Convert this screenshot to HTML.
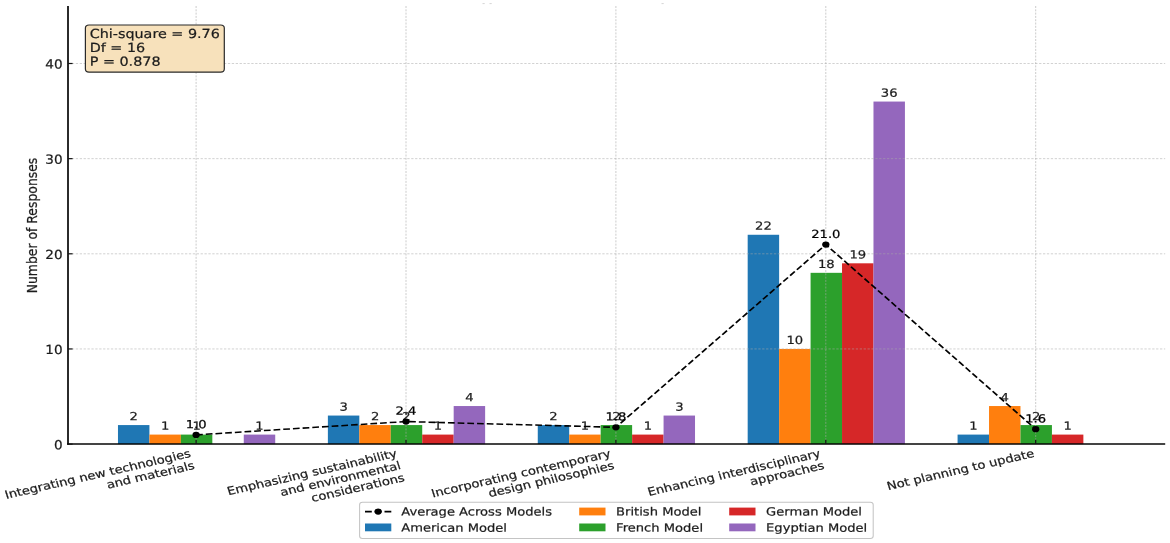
<!DOCTYPE html>
<html lang="en"><head><meta charset="utf-8"><title>Chart</title>
<style>
html,body{margin:0;padding:0;background:#fff;}
body{width:1170px;height:543px;overflow:hidden;}
svg{display:block;font-family:"DejaVu Sans", "Liberation Sans", sans-serif;}
</style></head><body>
<svg width="1170" height="543" viewBox="0 0 1170 543">
<rect width="1170" height="543" fill="#fff"/>
<rect x="482.5" y="3" width="2.2" height="1.1" fill="#d9d9d9"/>
<rect x="489.5" y="3" width="2.2" height="1.1" fill="#d9d9d9"/>
<rect x="661.5" y="3" width="2.2" height="1.1" fill="#d9d9d9"/>
<rect x="117.97" y="425.07" width="31.45" height="19.03" fill="#1f77b4"/>
<rect x="149.43" y="434.59" width="31.45" height="9.52" fill="#ff7f0e"/>
<rect x="180.88" y="434.59" width="31.45" height="9.52" fill="#2ca02c"/>
<rect x="243.77" y="434.59" width="31.45" height="9.52" fill="#9467bd"/>
<rect x="327.88" y="415.56" width="31.45" height="28.55" fill="#1f77b4"/>
<rect x="359.32" y="425.07" width="31.45" height="19.03" fill="#ff7f0e"/>
<rect x="390.77" y="425.07" width="31.45" height="19.03" fill="#2ca02c"/>
<rect x="422.23" y="434.59" width="31.45" height="9.52" fill="#d62728"/>
<rect x="453.68" y="406.04" width="31.45" height="38.06" fill="#9467bd"/>
<rect x="537.77" y="425.07" width="31.45" height="19.03" fill="#1f77b4"/>
<rect x="569.23" y="434.59" width="31.45" height="9.52" fill="#ff7f0e"/>
<rect x="600.67" y="425.07" width="31.45" height="19.03" fill="#2ca02c"/>
<rect x="632.12" y="434.59" width="31.45" height="9.52" fill="#d62728"/>
<rect x="663.57" y="415.56" width="31.45" height="28.55" fill="#9467bd"/>
<rect x="747.68" y="234.77" width="31.45" height="209.33" fill="#1f77b4"/>
<rect x="779.13" y="348.95" width="31.45" height="95.15" fill="#ff7f0e"/>
<rect x="810.58" y="272.83" width="31.45" height="171.27" fill="#2ca02c"/>
<rect x="842.03" y="263.31" width="31.45" height="180.79" fill="#d62728"/>
<rect x="873.48" y="101.56" width="31.45" height="342.54" fill="#9467bd"/>
<rect x="957.58" y="434.59" width="31.45" height="9.52" fill="#1f77b4"/>
<rect x="989.03" y="406.04" width="31.45" height="38.06" fill="#ff7f0e"/>
<rect x="1020.48" y="425.07" width="31.45" height="19.03" fill="#2ca02c"/>
<rect x="1051.92" y="434.59" width="31.45" height="9.52" fill="#d62728"/>
<line x1="196.10" x2="196.10" y1="6.0" y2="444.1" stroke="#a8a8a8" stroke-opacity="0.62" stroke-width="0.95" stroke-dasharray="2.0 1.3"/>
<line x1="406.00" x2="406.00" y1="6.0" y2="444.1" stroke="#a8a8a8" stroke-opacity="0.62" stroke-width="0.95" stroke-dasharray="2.0 1.3"/>
<line x1="615.90" x2="615.90" y1="6.0" y2="444.1" stroke="#a8a8a8" stroke-opacity="0.62" stroke-width="0.95" stroke-dasharray="2.0 1.3"/>
<line x1="825.80" x2="825.80" y1="6.0" y2="444.1" stroke="#a8a8a8" stroke-opacity="0.62" stroke-width="0.95" stroke-dasharray="2.0 1.3"/>
<line x1="1035.70" x2="1035.70" y1="6.0" y2="444.1" stroke="#a8a8a8" stroke-opacity="0.62" stroke-width="0.95" stroke-dasharray="2.0 1.3"/>
<line x1="68.0" x2="1165.2" y1="348.95" y2="348.95" stroke="#a8a8a8" stroke-opacity="0.62" stroke-width="0.85" stroke-dasharray="2.3 1.6"/>
<line x1="68.0" x2="1165.2" y1="253.80" y2="253.80" stroke="#a8a8a8" stroke-opacity="0.62" stroke-width="0.85" stroke-dasharray="2.3 1.6"/>
<line x1="68.0" x2="1165.2" y1="158.65" y2="158.65" stroke="#a8a8a8" stroke-opacity="0.62" stroke-width="0.85" stroke-dasharray="2.3 1.6"/>
<line x1="68.0" x2="1165.2" y1="63.50" y2="63.50" stroke="#a8a8a8" stroke-opacity="0.62" stroke-width="0.85" stroke-dasharray="2.3 1.6"/>
<text transform="translate(133.70 420.17) scale(1.46 1.24) rotate(0.05) scale(1 1.012)" font-size="9" text-anchor="middle" fill="#1c1c1c" stroke="#1c1c1c" stroke-width="0.18">2</text>
<text transform="translate(165.15 429.69) scale(1.46 1.24) rotate(0.05) scale(1 1.012)" font-size="9" text-anchor="middle" fill="#1c1c1c" stroke="#1c1c1c" stroke-width="0.18">1</text>
<text transform="translate(196.60 429.69) scale(1.46 1.24) rotate(0.05) scale(1 1.012)" font-size="9" text-anchor="middle" fill="#1c1c1c" stroke="#1c1c1c" stroke-width="0.18">1</text>
<text transform="translate(259.50 429.69) scale(1.46 1.24) rotate(0.05) scale(1 1.012)" font-size="9" text-anchor="middle" fill="#1c1c1c" stroke="#1c1c1c" stroke-width="0.18">1</text>
<text transform="translate(343.60 410.66) scale(1.46 1.24) rotate(0.05) scale(1 1.012)" font-size="9" text-anchor="middle" fill="#1c1c1c" stroke="#1c1c1c" stroke-width="0.18">3</text>
<text transform="translate(375.05 420.17) scale(1.46 1.24) rotate(0.05) scale(1 1.012)" font-size="9" text-anchor="middle" fill="#1c1c1c" stroke="#1c1c1c" stroke-width="0.18">2</text>
<text transform="translate(406.50 420.17) scale(1.46 1.24) rotate(0.05) scale(1 1.012)" font-size="9" text-anchor="middle" fill="#1c1c1c" stroke="#1c1c1c" stroke-width="0.18">2</text>
<text transform="translate(437.95 429.69) scale(1.46 1.24) rotate(0.05) scale(1 1.012)" font-size="9" text-anchor="middle" fill="#1c1c1c" stroke="#1c1c1c" stroke-width="0.18">1</text>
<text transform="translate(469.40 401.14) scale(1.46 1.24) rotate(0.05) scale(1 1.012)" font-size="9" text-anchor="middle" fill="#1c1c1c" stroke="#1c1c1c" stroke-width="0.18">4</text>
<text transform="translate(553.50 420.17) scale(1.46 1.24) rotate(0.05) scale(1 1.012)" font-size="9" text-anchor="middle" fill="#1c1c1c" stroke="#1c1c1c" stroke-width="0.18">2</text>
<text transform="translate(584.95 429.69) scale(1.46 1.24) rotate(0.05) scale(1 1.012)" font-size="9" text-anchor="middle" fill="#1c1c1c" stroke="#1c1c1c" stroke-width="0.18">1</text>
<text transform="translate(616.40 420.17) scale(1.46 1.24) rotate(0.05) scale(1 1.012)" font-size="9" text-anchor="middle" fill="#1c1c1c" stroke="#1c1c1c" stroke-width="0.18">2</text>
<text transform="translate(647.85 429.69) scale(1.46 1.24) rotate(0.05) scale(1 1.012)" font-size="9" text-anchor="middle" fill="#1c1c1c" stroke="#1c1c1c" stroke-width="0.18">1</text>
<text transform="translate(679.30 410.66) scale(1.46 1.24) rotate(0.05) scale(1 1.012)" font-size="9" text-anchor="middle" fill="#1c1c1c" stroke="#1c1c1c" stroke-width="0.18">3</text>
<text transform="translate(763.40 229.87) scale(1.46 1.24) rotate(0.05) scale(1 1.012)" font-size="9" text-anchor="middle" fill="#1c1c1c" stroke="#1c1c1c" stroke-width="0.18">22</text>
<text transform="translate(794.85 344.05) scale(1.46 1.24) rotate(0.05) scale(1 1.012)" font-size="9" text-anchor="middle" fill="#1c1c1c" stroke="#1c1c1c" stroke-width="0.18">10</text>
<text transform="translate(826.30 267.93) scale(1.46 1.24) rotate(0.05) scale(1 1.012)" font-size="9" text-anchor="middle" fill="#1c1c1c" stroke="#1c1c1c" stroke-width="0.18">18</text>
<text transform="translate(857.75 258.42) scale(1.46 1.24) rotate(0.05) scale(1 1.012)" font-size="9" text-anchor="middle" fill="#1c1c1c" stroke="#1c1c1c" stroke-width="0.18">19</text>
<text transform="translate(889.20 96.66) scale(1.46 1.24) rotate(0.05) scale(1 1.012)" font-size="9" text-anchor="middle" fill="#1c1c1c" stroke="#1c1c1c" stroke-width="0.18">36</text>
<text transform="translate(973.30 429.69) scale(1.46 1.24) rotate(0.05) scale(1 1.012)" font-size="9" text-anchor="middle" fill="#1c1c1c" stroke="#1c1c1c" stroke-width="0.18">1</text>
<text transform="translate(1004.75 401.14) scale(1.46 1.24) rotate(0.05) scale(1 1.012)" font-size="9" text-anchor="middle" fill="#1c1c1c" stroke="#1c1c1c" stroke-width="0.18">4</text>
<text transform="translate(1036.20 420.17) scale(1.46 1.24) rotate(0.05) scale(1 1.012)" font-size="9" text-anchor="middle" fill="#1c1c1c" stroke="#1c1c1c" stroke-width="0.18">2</text>
<text transform="translate(1067.65 429.69) scale(1.46 1.24) rotate(0.05) scale(1 1.012)" font-size="9" text-anchor="middle" fill="#1c1c1c" stroke="#1c1c1c" stroke-width="0.18">1</text>
<g transform="scale(1.46 1.24)"><polyline points="134.32,350.71 278.08,339.97 421.85,344.58 565.62,197.25 709.38,346.11" fill="none" stroke="#000" stroke-width="1.25" stroke-dasharray="4.6 2.05"/>
<circle cx="134.32" cy="350.71" r="2.5" fill="#000"/>
<circle cx="278.08" cy="339.97" r="2.5" fill="#000"/>
<circle cx="421.85" cy="344.58" r="2.5" fill="#000"/>
<circle cx="565.62" cy="197.25" r="2.5" fill="#000"/>
<circle cx="709.38" cy="346.11" r="2.5" fill="#000"/>
</g>
<text transform="translate(196.10 428.19) scale(1.46 1.24) rotate(0.05) scale(1 1.012)" font-size="9" text-anchor="middle" fill="#000" stroke="#000" stroke-width="0.18">1.0</text>
<text transform="translate(406.00 414.86) scale(1.46 1.24) rotate(0.05) scale(1 1.012)" font-size="9" text-anchor="middle" fill="#000" stroke="#000" stroke-width="0.18">2.4</text>
<text transform="translate(615.90 420.57) scale(1.46 1.24) rotate(0.05) scale(1 1.012)" font-size="9" text-anchor="middle" fill="#000" stroke="#000" stroke-width="0.18">1.8</text>
<text transform="translate(825.80 237.89) scale(1.46 1.24) rotate(0.05) scale(1 1.012)" font-size="9" text-anchor="middle" fill="#000" stroke="#000" stroke-width="0.18">21.0</text>
<text transform="translate(1035.70 422.48) scale(1.46 1.24) rotate(0.05) scale(1 1.012)" font-size="9" text-anchor="middle" fill="#000" stroke="#000" stroke-width="0.18">1.6</text>
<line x1="68.0" x2="68.0" y1="6.0" y2="444.8" stroke="#141414" stroke-width="1.8"/>
<line x1="67.1" x2="1165.2" y1="444.1" y2="444.1" stroke="#060606" stroke-width="1.5"/>
<line x1="196.10" x2="196.10" y1="444.1" y2="439.8" stroke="#141414" stroke-width="1.3"/>
<line x1="406.00" x2="406.00" y1="444.1" y2="439.8" stroke="#141414" stroke-width="1.3"/>
<line x1="615.90" x2="615.90" y1="444.1" y2="439.8" stroke="#141414" stroke-width="1.3"/>
<line x1="825.80" x2="825.80" y1="444.1" y2="439.8" stroke="#141414" stroke-width="1.3"/>
<line x1="1035.70" x2="1035.70" y1="444.1" y2="439.8" stroke="#141414" stroke-width="1.3"/>
<line x1="68.0" x2="72.6" y1="444.10" y2="444.10" stroke="#141414" stroke-width="1.2"/>
<text transform="translate(62.60 449.20) scale(1.36 1.24) rotate(0.05) scale(1 1.012)" font-size="10" text-anchor="end" fill="#1c1c1c" stroke="#1c1c1c" stroke-width="0.18">0</text>
<line x1="68.0" x2="72.6" y1="348.95" y2="348.95" stroke="#141414" stroke-width="1.2"/>
<text transform="translate(62.60 354.05) scale(1.36 1.24) rotate(0.05) scale(1 1.012)" font-size="10" text-anchor="end" fill="#1c1c1c" stroke="#1c1c1c" stroke-width="0.18">10</text>
<line x1="68.0" x2="72.6" y1="253.80" y2="253.80" stroke="#141414" stroke-width="1.2"/>
<text transform="translate(62.60 258.90) scale(1.36 1.24) rotate(0.05) scale(1 1.012)" font-size="10" text-anchor="end" fill="#1c1c1c" stroke="#1c1c1c" stroke-width="0.18">20</text>
<line x1="68.0" x2="72.6" y1="158.65" y2="158.65" stroke="#141414" stroke-width="1.2"/>
<text transform="translate(62.60 163.75) scale(1.36 1.24) rotate(0.05) scale(1 1.012)" font-size="10" text-anchor="end" fill="#1c1c1c" stroke="#1c1c1c" stroke-width="0.18">30</text>
<line x1="68.0" x2="72.6" y1="63.50" y2="63.50" stroke="#141414" stroke-width="1.2"/>
<text transform="translate(62.60 68.60) scale(1.36 1.24) rotate(0.05) scale(1 1.012)" font-size="10" text-anchor="end" fill="#1c1c1c" stroke="#1c1c1c" stroke-width="0.18">40</text>
<text transform="translate(37.1 225.5) scale(1.46 1.24) rotate(-90)" font-size="10" text-anchor="middle" fill="#1c1c1c" stroke="#1c1c1c" stroke-width="0.18">Number of Responses</text>
<g transform="scale(1.46 1.24) translate(129.45 361.65) rotate(-15)" font-size="9" text-anchor="end" fill="#1c1c1c" stroke="#1c1c1c" stroke-width="0.18">
<text x="0" y="6.93">Integrating new technologies</text>
<text x="0" y="17.01">and materials</text>
</g>
<g transform="scale(1.46 1.24) translate(270.60 361.65) rotate(-15)" font-size="9" text-anchor="end" fill="#1c1c1c" stroke="#1c1c1c" stroke-width="0.18">
<text x="0" y="6.93">Emphasizing sustainability</text>
<text x="0" y="17.01">and environmental</text>
<text x="0" y="27.09">considerations</text>
</g>
<g transform="scale(1.46 1.24) translate(416.98 361.65) rotate(-15)" font-size="9" text-anchor="end" fill="#1c1c1c" stroke="#1c1c1c" stroke-width="0.18">
<text x="0" y="6.93">Incorporating contemporary</text>
<text x="0" y="17.01">design philosophies</text>
</g>
<g transform="scale(1.46 1.24) translate(560.75 361.65) rotate(-15)" font-size="9" text-anchor="end" fill="#1c1c1c" stroke="#1c1c1c" stroke-width="0.18">
<text x="0" y="6.93">Enhancing interdisciplinary</text>
<text x="0" y="17.01">approaches</text>
</g>
<g transform="scale(1.46 1.24) translate(707.12 361.65) rotate(-15)" font-size="9" text-anchor="end" fill="#1c1c1c" stroke="#1c1c1c" stroke-width="0.18">
<text x="0" y="6.93">Not planning to update</text>
</g>
<rect x="85.4" y="25.0" width="138.9" height="47.2" rx="3.6" ry="3.1" fill="#f7e1bb" stroke="#2a2a2a" stroke-width="1.2"/>
<text transform="translate(89.70 38.00) scale(1.435 1.24) rotate(0.05) scale(1 1.012)" font-size="10" text-anchor="start" fill="#1c1c1c" stroke="#1c1c1c" stroke-width="0.18">Chi-square = 9.76</text>
<text transform="translate(89.70 51.90) scale(1.435 1.24) rotate(0.05) scale(1 1.012)" font-size="10" text-anchor="start" fill="#1c1c1c" stroke="#1c1c1c" stroke-width="0.18">Df = 16</text>
<text transform="translate(89.70 65.80) scale(1.435 1.24) rotate(0.05) scale(1 1.012)" font-size="10" text-anchor="start" fill="#1c1c1c" stroke="#1c1c1c" stroke-width="0.18">P = 0.878</text>
<rect x="359.6" y="502.2" width="513.6" height="36.2" rx="2.9" ry="2.5" fill="#fff" stroke="#c4c4c4" stroke-width="1.05"/>
<line x1="365.0" x2="391.3" y1="511.6" y2="511.6" stroke="#000" stroke-width="1.6" stroke-dasharray="6.8 2.95"/>
<ellipse cx="378.15" cy="511.6" rx="3.65" ry="3.1" fill="#000"/>
<text transform="translate(401.20 515.50) scale(1.455 1.24) rotate(0.05) scale(1 1.012)" font-size="9" text-anchor="start" fill="#1c1c1c" stroke="#1c1c1c" stroke-width="0.18">Average Across Models</text>
<rect x="365.0" y="523.5" width="26.3" height="7.8" fill="#1f77b4"/>
<text transform="translate(401.20 531.60) scale(1.455 1.24) rotate(0.05) scale(1 1.012)" font-size="9" text-anchor="start" fill="#1c1c1c" stroke="#1c1c1c" stroke-width="0.18">American Model</text>
<rect x="579.1999999999999" y="507.6" width="26.3" height="7.8" fill="#ff7f0e"/>
<text transform="translate(616.10 515.50) scale(1.455 1.24) rotate(0.05) scale(1 1.012)" font-size="9" text-anchor="start" fill="#1c1c1c" stroke="#1c1c1c" stroke-width="0.18">British Model</text>
<rect x="579.1999999999999" y="523.5" width="26.3" height="7.8" fill="#2ca02c"/>
<text transform="translate(616.10 531.60) scale(1.455 1.24) rotate(0.05) scale(1 1.012)" font-size="9" text-anchor="start" fill="#1c1c1c" stroke="#1c1c1c" stroke-width="0.18">French Model</text>
<rect x="729.1999999999999" y="507.6" width="26.3" height="7.8" fill="#d62728"/>
<text transform="translate(766.10 515.50) scale(1.455 1.24) rotate(0.05) scale(1 1.012)" font-size="9" text-anchor="start" fill="#1c1c1c" stroke="#1c1c1c" stroke-width="0.18">German Model</text>
<rect x="729.1999999999999" y="523.5" width="26.3" height="7.8" fill="#9467bd"/>
<text transform="translate(766.10 531.60) scale(1.455 1.24) rotate(0.05) scale(1 1.012)" font-size="9" text-anchor="start" fill="#1c1c1c" stroke="#1c1c1c" stroke-width="0.18">Egyptian Model</text>
</svg>
</body></html>
